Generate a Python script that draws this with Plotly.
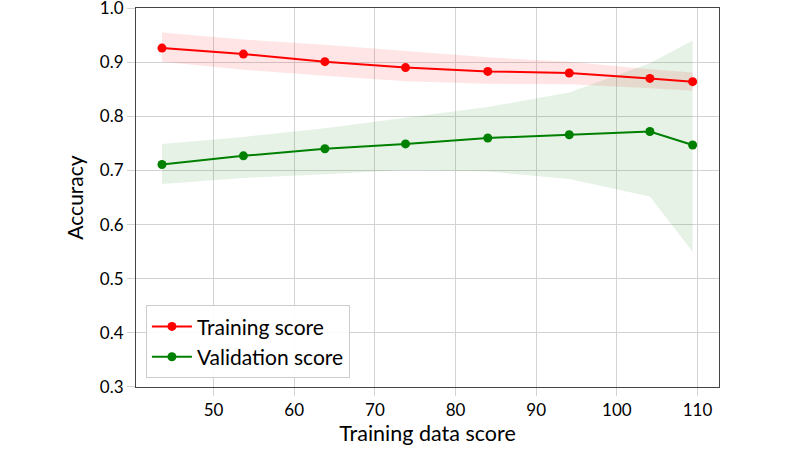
import plotly.graph_objects as go

# Data
train_sizes = [43.6, 53.7, 63.8, 73.8, 84.0, 94.1, 104.1, 109.4]
train_mean = [0.926, 0.915, 0.901, 0.890, 0.883, 0.880, 0.870, 0.864]
train_upper = [0.955, 0.942, 0.932, 0.921, 0.909, 0.901, 0.887, 0.881]
train_lower = [0.901, 0.886, 0.875, 0.865, 0.860, 0.859, 0.852, 0.847]
val_mean = [0.711, 0.727, 0.740, 0.749, 0.760, 0.766, 0.772, 0.747]
val_upper = [0.749, 0.762, 0.778, 0.797, 0.817, 0.844, 0.898, 0.940]
val_lower = [0.675, 0.686, 0.693, 0.701, 0.698, 0.684, 0.652, 0.550]

x_ticks = [50, 60, 70, 80, 90, 100, 110]
y_ticks = [0.3, 0.4, 0.5, 0.6, 0.7, 0.8, 0.9, 1.0]
y_tick_text = ["0.3", "0.4", "0.5", "0.6", "0.7", "0.8", "0.9", "1.0"]

FONT = "Lato"
RED = "#ff0000"
GREEN = "#008000"

fig = go.Figure()

# bands
fig.add_trace(go.Scatter(x=train_sizes, y=train_upper, mode="lines",
                         line=dict(width=0), showlegend=False, hoverinfo="skip"))
fig.add_trace(go.Scatter(x=train_sizes, y=train_lower, mode="lines",
                         line=dict(width=0), fill="tonexty",
                         fillcolor="rgba(255,0,0,0.1)", showlegend=False, hoverinfo="skip"))
fig.add_trace(go.Scatter(x=train_sizes, y=val_upper, mode="lines",
                         line=dict(width=0), showlegend=False, hoverinfo="skip"))
fig.add_trace(go.Scatter(x=train_sizes, y=val_lower, mode="lines",
                         line=dict(width=0), fill="tonexty",
                         fillcolor="rgba(0,128,0,0.1)", showlegend=False, hoverinfo="skip"))

# lines
fig.add_trace(go.Scatter(x=train_sizes, y=train_mean, mode="lines+markers",
                         name="Training score",
                         line=dict(color=RED, width=2),
                         marker=dict(color=RED, size=9)))
fig.add_trace(go.Scatter(x=train_sizes, y=val_mean, mode="lines+markers",
                         name="Validation score",
                         line=dict(color=GREEN, width=2),
                         marker=dict(color=GREEN, size=9)))

axis_common = dict(
    showgrid=True, gridcolor="#d3d3d3", gridwidth=1,
    showline=True, linecolor="#444444", linewidth=1, mirror=True,
    ticks="outside", ticklen=8, tickcolor="#d3d3d3", tickwidth=1,
    zeroline=False, automargin=False, ticklabeloverflow="allow",
    tickfont=dict(family=FONT, size=17, color="black"),
)

fig.update_layout(
    width=800, height=450,
    margin=dict(l=136, r=81, t=8, b=63),
    paper_bgcolor="white", plot_bgcolor="white",
    font=dict(family=FONT, color="black"),
    xaxis=dict(range=[40.38, 112.67], tickvals=x_ticks,
               title=dict(text="Training data score",
                          font=dict(family=FONT, size=21.5, color="black"), standoff=4),
               **axis_common),
    yaxis=dict(range=[0.2999, 1.0001], tickvals=y_ticks, ticktext=y_tick_text,
               title=dict(text="Accuracy",
                          font=dict(family=FONT, size=21, color="black"), standoff=10),
               **axis_common),
    legend=dict(x=0.017, y=0.023, xanchor="left", yanchor="bottom",
                traceorder="normal",
                bgcolor="rgba(255,255,255,0.9)", bordercolor="#cccccc", borderwidth=1,
                font=dict(family=FONT, size=21, color="black"),
                tracegroupgap=0, itemwidth=40),
    showlegend=True,
)

fig.write_html("out.html",
               config={"displayModeBar": False},
               post_script="document.body.style.margin='0px';document.body.style.overflow='hidden';")
